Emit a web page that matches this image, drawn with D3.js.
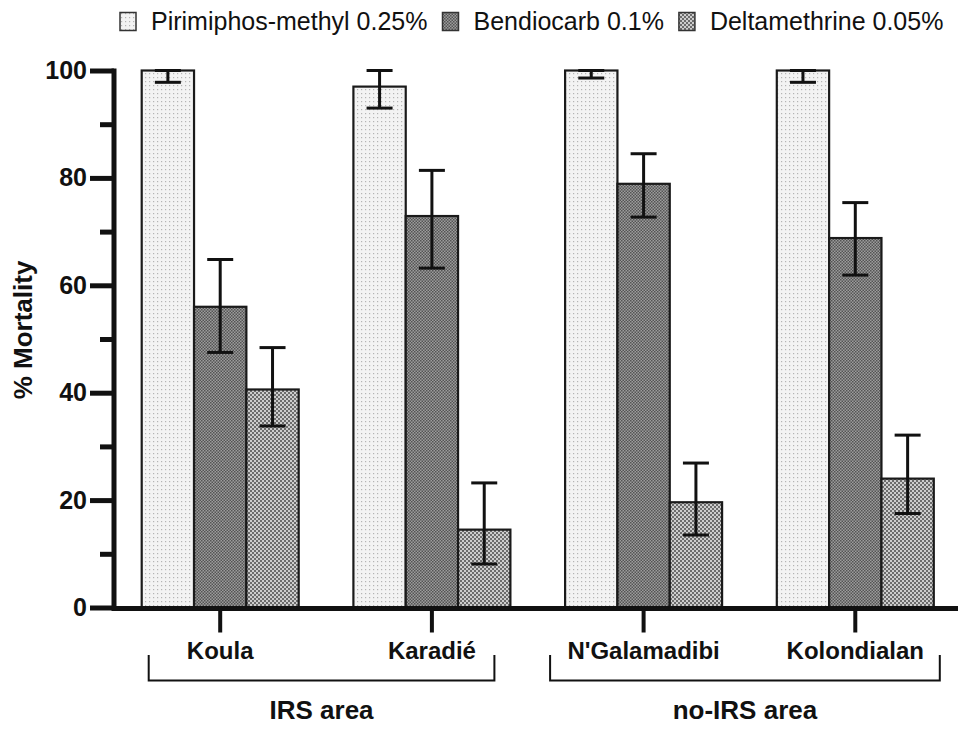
<!DOCTYPE html>
<html>
<head>
<meta charset="utf-8">
<script src="https://cdn.jsdelivr.net/npm/d3@7"></script>
<style>
  html, body { margin: 0; padding: 0; background: #fff; }
  svg { display: block; }
  text { font-family: "Liberation Sans", Arial, Helvetica, sans-serif; fill: #111; }
</style>
</head>
<body>
<svg id="chart" width="958" height="729"></svg>
<script>
// ---- data ----
const sites = ["Koula", "Karadié", "N'Galamadibi", "Kolondialan"];
const seriesNames = ["Pirimiphos-methyl 0.25%", "Bendiocarb 0.1%", "Deltamethrine 0.05%"];
const pirimiphos     = [100, 97.0, 100, 100];
const pirimiphosLow  = [97.8, 93.0, 98.6, 97.8];
const pirimiphosHigh = [100, 100, 100, 100];
const bendiocarb     = [56.0, 72.9, 78.9, 68.8];
const bendiocarbLow  = [47.5, 63.2, 72.7, 61.9];
const bendiocarbHigh = [64.8, 81.4, 84.5, 75.4];
const deltamethrine     = [40.6, 14.5, 19.6, 24.0];
const deltamethrineLow  = [33.8, 8.1, 13.5, 17.5];
const deltamethrineHigh = [48.4, 23.2, 26.9, 32.1];
const yTicks = [0, 20, 40, 60, 80, 100];
const yMinorTicks = [10, 30, 50, 70, 90];
const areas = [
  { label: "IRS area", from: "Koula", to: "Karadié" },
  { label: "no-IRS area", from: "N'Galamadibi", to: "Kolondialan" }
];
const yTitle = "% Mortality";

const seriesValues = [pirimiphos, bendiocarb, deltamethrine];
const seriesLow = [pirimiphosLow, bendiocarbLow, deltamethrineLow];
const seriesHigh = [pirimiphosHigh, bendiocarbHigh, deltamethrineHigh];
const patternIds = ["pat-pm", "pat-bend", "pat-delta"];

const rows = [];
sites.forEach((s, i) => {
  seriesNames.forEach((n, j) => {
    rows.push({ site: s, series: n, si: j, value: seriesValues[j][i], low: seriesLow[j][i], high: seriesHigh[j][i] });
  });
});

// ---- setup ----
const svg = d3.select("#chart");
const defs = svg.append("defs");

// patterns
const p1 = defs.append("pattern").attr("id", "pat-pm").attr("patternUnits", "userSpaceOnUse").attr("width", 4).attr("height", 4);
p1.append("rect").attr("width", 4).attr("height", 4).attr("fill", "#f3f3f3");
p1.append("rect").attr("x", 1).attr("y", 1).attr("width", 1.2).attr("height", 1.2).attr("fill", "#b4b4b4");

const p2 = defs.append("pattern").attr("id", "pat-bend").attr("patternUnits", "userSpaceOnUse").attr("width", 3).attr("height", 3);
p2.append("rect").attr("width", 3).attr("height", 3).attr("fill", "#9c9c9c");
p2.append("rect").attr("x", 0).attr("y", 0).attr("width", 1.5).attr("height", 1.5).attr("fill", "#545454");
p2.append("rect").attr("x", 1.5).attr("y", 1.5).attr("width", 1.5).attr("height", 1.5).attr("fill", "#545454");

const p3 = defs.append("pattern").attr("id", "pat-delta").attr("patternUnits", "userSpaceOnUse").attr("width", 4).attr("height", 4);
p3.append("rect").attr("width", 4).attr("height", 4).attr("fill", "#cdcdcd");
p3.append("rect").attr("x", 0).attr("y", 0).attr("width", 2).attr("height", 2).attr("fill", "#6c6c6c");
p3.append("rect").attr("x", 2).attr("y", 2).attr("width", 2).attr("height", 2).attr("fill", "#6c6c6c");

const y = d3.scaleLinear().domain([0, 100]).range([607.5, 70.5]);
const x0 = d3.scaleBand().domain(sites).range([113, 962.5]).paddingInner(0.2584).paddingOuter(0.1356);
const x1 = d3.scaleBand().domain(seriesNames).range([0, x0.bandwidth()]).padding(0);

const ink = "#111";

// bars
svg.append("g").selectAll("rect").data(rows).join("rect")
  .attr("x", d => x0(d.site) + x1(d.series))
  .attr("y", d => y(d.value))
  .attr("width", x1.bandwidth())
  .attr("height", d => y(0) - y(d.value))
  .attr("fill", d => `url(#${patternIds[d.si]})`)
  .attr("stroke", "#1a1a1a")
  .attr("stroke-width", 2.2);

// error bars
const eb = svg.append("g").attr("stroke", ink).attr("stroke-width", 3).attr("fill", "none");
const capW = 13;
rows.forEach(d => {
  const cx = x0(d.site) + x1(d.series) + x1.bandwidth() / 2;
  eb.append("line").attr("x1", cx).attr("x2", cx).attr("y1", y(d.low)).attr("y2", y(d.high));
  eb.append("line").attr("x1", cx - capW).attr("x2", cx + capW).attr("y1", y(d.low)).attr("y2", y(d.low));
  eb.append("line").attr("x1", cx - capW).attr("x2", cx + capW).attr("y1", y(d.high)).attr("y2", y(d.high));
});

// y axis
const yAxis = svg.append("g").attr("transform", "translate(114,0)")
  .call(d3.axisLeft(y).tickValues(yTicks).tickSize(24).tickSizeOuter(0).tickPadding(3));
yAxis.select(".domain").attr("stroke", ink).attr("stroke-width", 5).attr("d", `M0,${y(100) - 2}V${y(0) + 2}`);
yAxis.selectAll(".tick line").attr("stroke", ink).attr("stroke-width", 5);
yAxis.selectAll(".tick text").attr("font-size", 25).attr("font-weight", "bold")
  .attr("font-family", "'Liberation Sans', Arial, sans-serif").attr("fill", ink);
const yMinor = svg.append("g").attr("transform", "translate(114,0)")
  .call(d3.axisLeft(y).tickValues(yMinorTicks).tickSize(14).tickFormat(""));
yMinor.select(".domain").remove();
yMinor.selectAll(".tick line").attr("stroke", ink).attr("stroke-width", 5);

// x axis
const xTickScale = d3.scaleOrdinal().domain(sites).range(sites.map(s => x0(s) + x0.bandwidth() / 2));
const xAxisG = svg.append("g").attr("transform", `translate(0,${y(0) + 1})`);
xAxisG.append("line").attr("x1", 111.5).attr("x2", 958).attr("y1", 0).attr("y2", 0)
  .attr("stroke", ink).attr("stroke-width", 5);
xAxisG.selectAll(".xt").data(sites).join("line").attr("class", "xt")
  .attr("x1", d => xTickScale(d)).attr("x2", d => xTickScale(d))
  .attr("y1", 0).attr("y2", 24).attr("stroke", ink).attr("stroke-width", 4);
xAxisG.selectAll(".xl").data(sites).join("text").attr("class", "xl")
  .attr("x", d => xTickScale(d)).attr("y", 50)
  .attr("text-anchor", "middle").attr("font-size", 24).attr("font-weight", "bold")
  .text(d => d);

// area brackets
const bracketTop = 655, bracketBottom = 680.5;
const bracketOffsets = [[7, -16], [-15, 6]];
areas.forEach((a, i) => {
  const xa = x0(a.from) + bracketOffsets[i][0];
  const xb = x0(a.to) + x0.bandwidth() + bracketOffsets[i][1];
  svg.append("path")
    .attr("d", `M${xa},${bracketTop}V${bracketBottom}H${xb}V${bracketTop}`)
    .attr("fill", "none").attr("stroke", ink).attr("stroke-width", 2);
  svg.append("text").attr("x", (xa + xb) / 2).attr("y", 719)
    .attr("text-anchor", "middle").attr("font-size", 26).attr("font-weight", "bold")
    .text(a.label);
});

// y title
svg.append("text")
  .attr("transform", `translate(32,330) rotate(-90)`)
  .attr("text-anchor", "middle").attr("font-size", 26).attr("font-weight", "bold")
  .text(yTitle);

// legend
const legend = svg.append("g");
let lx = 120;
seriesNames.forEach((n, j) => {
  legend.append("rect").attr("x", lx).attr("y", 12.5).attr("width", 16).attr("height", 18)
    .attr("fill", `url(#${patternIds[j]})`).attr("stroke", "#333").attr("stroke-width", 1.5);
  const t = legend.append("text").attr("x", lx + 31).attr("y", 30).attr("font-size", 25).text(n);
  const w = t.node().getComputedTextLength();
  lx = lx + 31 + w + 15;
});
</script>
</body>
</html>
